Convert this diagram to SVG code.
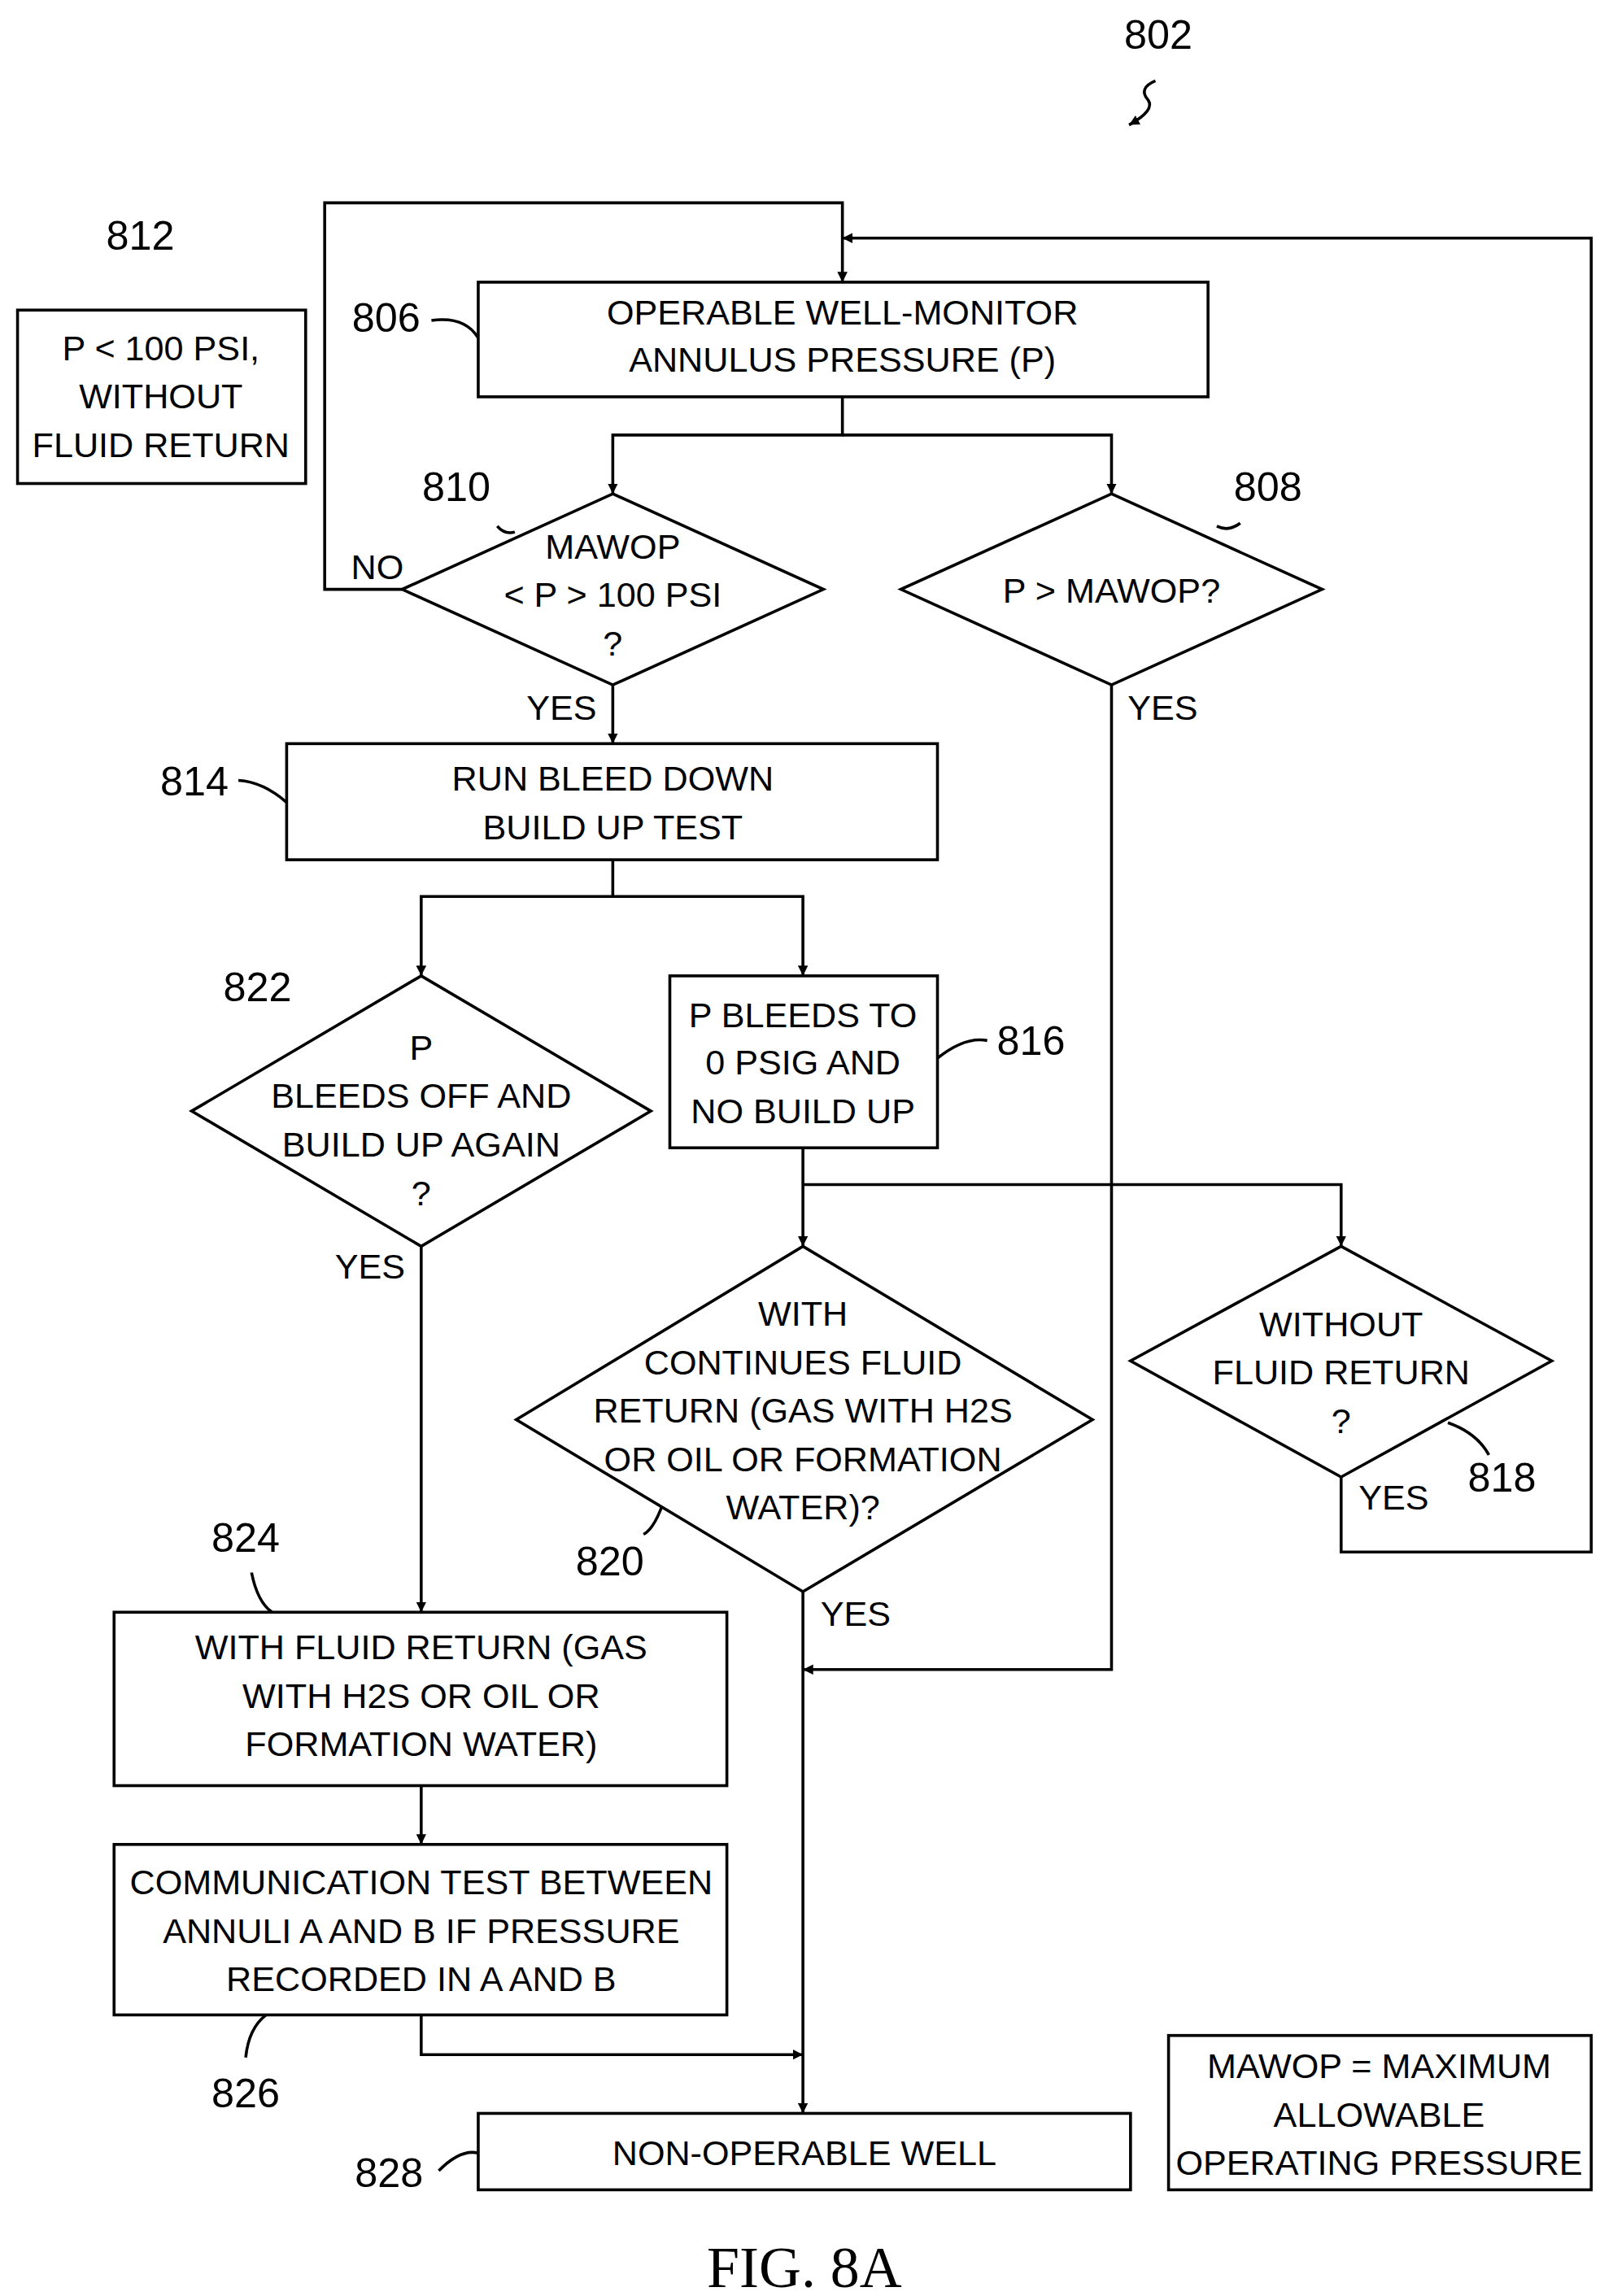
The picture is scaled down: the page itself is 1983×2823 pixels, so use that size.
<svg xmlns="http://www.w3.org/2000/svg" width="1983" height="2823" viewBox="0 0 1983 2823">
<style>
.s{fill:none;stroke:#000;stroke-width:2}
.b{fill:#fff;stroke:#000;stroke-width:2}
.t{font-family:"Liberation Sans",Arial,sans-serif;font-size:24px;text-anchor:middle;fill:#000}
.r{font-family:"Liberation Sans",Arial,sans-serif;font-size:28px;text-anchor:middle;fill:#000}
</style>
<defs><marker id="a" viewBox="0 0 10 10" refX="10" refY="5" markerWidth="7" markerHeight="7" orient="auto" markerUnits="userSpaceOnUse"><path d="M0,0 L10,5 L0,10 z" fill="#000"/></marker></defs>
<rect width="1983" height="2823" fill="#fff"/>
<g transform="scale(1.798,1.807)">
<g id="connectors" class="s">
<path d="M275,401 L222,401 L222,138 L576,138 L576,192" marker-end="url(#a)"/>
<path d="M917,1005 L917,1056 L1088,1056 L1088,162 L576,162" marker-end="url(#a)"/>
<path d="M576,270 L576,296 L419,296 L419,336" marker-end="url(#a)"/>
<path d="M576,296 L760,296 L760,336" marker-end="url(#a)"/>
<path d="M419,466 L419,506" marker-end="url(#a)"/>
<path d="M419,585 L419,610 L288,610 L288,664" marker-end="url(#a)"/>
<path d="M419,610 L549,610 L549,664" marker-end="url(#a)"/>
<path d="M549,781 L549,848" marker-end="url(#a)"/>
<path d="M549,806 L917,806 L917,848" marker-end="url(#a)"/>
<path d="M760,466 L760,1136 L549,1136" marker-end="url(#a)"/>
<path d="M549,1083 L549,1438" marker-end="url(#a)"/>
<path d="M288,848 L288,1097" marker-end="url(#a)"/>
<path d="M288,1215 L288,1255" marker-end="url(#a)"/>
<path d="M288,1371 L288,1398 L549,1398" marker-end="url(#a)"/>
<path d="M790,55 Q778,60 785,68 Q790,75 772,85" marker-end="url(#a)"/>
<path d="M295,218 Q318,215 327,230"/>
<path d="M340,358 Q345,364 352,362"/>
<path d="M832,358 Q840,362 848,356"/>
<path d="M163,531 Q180,532 196,546"/>
<path d="M641,720 Q660,705 675,708"/>
<path d="M990,968 Q1010,975 1018,990"/>
<path d="M440,1044 Q448,1040 455,1018"/>
<path d="M172,1070 Q176,1090 186,1097"/>
<path d="M168,1400 Q170,1380 182,1371"/>
<path d="M300,1477 Q315,1462 327,1465"/>
</g>
<g id="n806"><rect class="b" x="327" y="192" width="499" height="78"/><text class="t" x="576" y="221">OPERABLE WELL-MONITOR</text><text class="t" x="576" y="253">ANNULUS PRESSURE (P)</text><text class="r" x="264" y="226">806</text></g>
<g id="n812"><rect class="b" x="12" y="211" width="197" height="118"/><text class="t" x="110" y="245">P &lt; 100 PSI,</text><text class="t" x="110" y="278">WITHOUT</text><text class="t" x="110" y="311">FLUID RETURN</text><text class="r" x="96" y="170">812</text></g>
<g id="n810"><polygon class="b" points="419,336 563,401 419,466 275,401"/><text class="t" x="419" y="380">MAWOP</text><text class="t" x="419" y="413">&lt; P &gt; 100 PSI</text><text class="t" x="419" y="446">?</text><text class="r" x="312" y="341">810</text><text class="t" x="258" y="394">NO</text><text class="t" x="384" y="490">YES</text></g>
<g id="n808"><polygon class="b" points="760,336 904,401 760,466 616,401"/><text class="t" x="760" y="410">P &gt; MAWOP?</text><text class="r" x="867" y="341">808</text><text class="t" x="795" y="490">YES</text></g>
<g id="n814"><rect class="b" x="196" y="506" width="445" height="79"/><text class="t" x="419" y="538">RUN BLEED DOWN</text><text class="t" x="419" y="571">BUILD UP TEST</text><text class="r" x="133" y="541">814</text></g>
<g id="n822"><polygon class="b" points="288,664 445,756 288,848 131,756"/><text class="t" x="288" y="721">P</text><text class="t" x="288" y="754">BLEEDS OFF AND</text><text class="t" x="288" y="787">BUILD UP AGAIN</text><text class="t" x="288" y="820">?</text><text class="r" x="176" y="681">822</text><text class="t" x="253" y="870">YES</text></g>
<g id="n816"><rect class="b" x="458" y="664" width="183" height="117"/><text class="t" x="549" y="699">P BLEEDS TO</text><text class="t" x="549" y="731">0 PSIG AND</text><text class="t" x="549" y="764">NO BUILD UP</text><text class="r" x="705" y="718">816</text></g>
<g id="n820"><polygon class="b" points="549,848 747,966 549,1083 353,966"/><text class="t" x="549" y="902">WITH</text><text class="t" x="549" y="935">CONTINUES FLUID</text><text class="t" x="549" y="968">RETURN (GAS WITH H2S</text><text class="t" x="549" y="1001">OR OIL OR FORMATION</text><text class="t" x="549" y="1034">WATER)?</text><text class="r" x="417" y="1072">820</text><text class="t" x="585" y="1106">YES</text></g>
<g id="n818"><polygon class="b" points="917,848 1061,926 917,1005 773,926"/><text class="t" x="917" y="909">WITHOUT</text><text class="t" x="917" y="942">FLUID RETURN</text><text class="t" x="917" y="975">?</text><text class="r" x="1027" y="1015">818</text><text class="t" x="953" y="1027">YES</text></g>
<g id="n824"><rect class="b" x="78" y="1097" width="419" height="118"/><text class="t" x="288" y="1129">WITH FLUID RETURN (GAS</text><text class="t" x="288" y="1162">WITH H2S OR OIL OR</text><text class="t" x="288" y="1195">FORMATION WATER)</text><text class="r" x="168" y="1056">824</text></g>
<g id="n826"><rect class="b" x="78" y="1255" width="419" height="116"/><text class="t" x="288" y="1289">COMMUNICATION TEST BETWEEN</text><text class="t" x="288" y="1322">ANNULI A AND B IF PRESSURE</text><text class="t" x="288" y="1355">RECORDED IN A AND B</text><text class="r" x="168" y="1434">826</text></g>
<g id="n828"><rect class="b" x="327" y="1438" width="446" height="52"/><text class="t" x="550" y="1473">NON-OPERABLE WELL</text><text class="r" x="266" y="1488">828</text></g>
<g id="legend"><rect class="b" x="799" y="1385" width="289" height="105"/><text class="t" x="943" y="1414">MAWOP = MAXIMUM</text><text class="t" x="943" y="1447">ALLOWABLE</text><text class="t" x="943" y="1480">OPERATING PRESSURE</text></g>
<text class="r" x="792" y="33">802</text>
<text x="550" y="1556" style="font-family:'Liberation Serif',serif;font-size:40px;text-anchor:middle">FIG. 8A</text>
</g>
</svg>
